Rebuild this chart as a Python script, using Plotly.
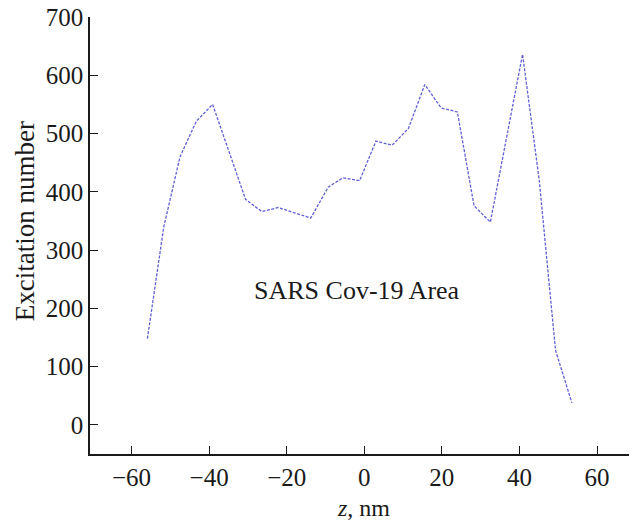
import plotly.graph_objects as go

z_nm = [-55.9, -51.7, -47.5, -43.3, -39.1, -34.9, -30.6, -26.4, -22.2, -18.0,
        -13.8, -9.3, -5.5, -1.2, 3.0, 7.2, 11.4, 15.6, 19.8, 24.0,
        28.3, 32.5, 36.7, 40.8, 45.1, 49.3, 53.5]
excitation = [148, 339, 460, 521, 550, 468, 387, 366, 373, 364,
              355, 408, 424, 419, 487, 480, 509, 584, 544, 537,
              376, 348, 492, 636, 420, 128, 38]

x_ticks = [-60, -40, -20, 0, 20, 40, 60]
y_ticks = [0, 100, 200, 300, 400, 500, 600, 700]
label_text = "SARS Cov-19 Area"
x_title = "<i>z</i>, nm"
y_title = "Excitation number"

FONT = "Liberation Serif, Times New Roman, serif"
INK = "#1a1a1a"

fig = go.Figure()
fig.add_trace(go.Scatter(
    x=z_nm, y=excitation, mode="lines",
    line=dict(color="rgb(95,95,215)", width=1.3, dash="3px,1.5px"),
    showlegend=False,
))

fig.add_annotation(
    x=-2.0, y=231, xref="x", yref="y", text=label_text, showarrow=False,
    xanchor="center", yanchor="middle",
    font=dict(family=FONT, size=26, color=INK),
)
fig.add_annotation(
    x=0.5, y=-0.1236, xref="paper", yref="paper", text=x_title, showarrow=False,
    xanchor="center", yanchor="middle",
    font=dict(family=FONT, size=24, color=INK),
)
fig.add_annotation(
    x=-0.1197, y=0.5316, xref="paper", yref="paper", text=y_title, showarrow=False,
    xanchor="center", yanchor="middle", textangle=-90,
    font=dict(family=FONT, size=27, color=INK),
)

# page body adds an 8px margin; the figure is sized/offset to compensate
fig.update_layout(
    width=629, height=512,
    margin=dict(l=82, r=0, t=9, b=66),
    paper_bgcolor="white", plot_bgcolor="white",
    font=dict(family=FONT, size=25, color=INK),
)
fig.update_xaxes(
    range=[-70.7, 70.3], tickvals=x_ticks,
    ticktext=[("\u2212" + str(-v)) if v < 0 else str(v) for v in x_ticks],
    ticks="inside", ticklen=8, tickwidth=1.2, tickcolor=INK,
    showline=True, linecolor=INK, linewidth=1.5,
    showgrid=False, zeroline=False, automargin=False,
    ticklabeloverflow="allow",
)
fig.update_yaxes(
    range=[-50, 700], tickvals=y_ticks,
    ticks="inside", ticklen=8, tickwidth=1.2, tickcolor=INK,
    showline=True, linecolor=INK, linewidth=1.5,
    showgrid=False, zeroline=False, automargin=False,
    ticklabeloverflow="allow",
)

fig.write_html("out.html")
